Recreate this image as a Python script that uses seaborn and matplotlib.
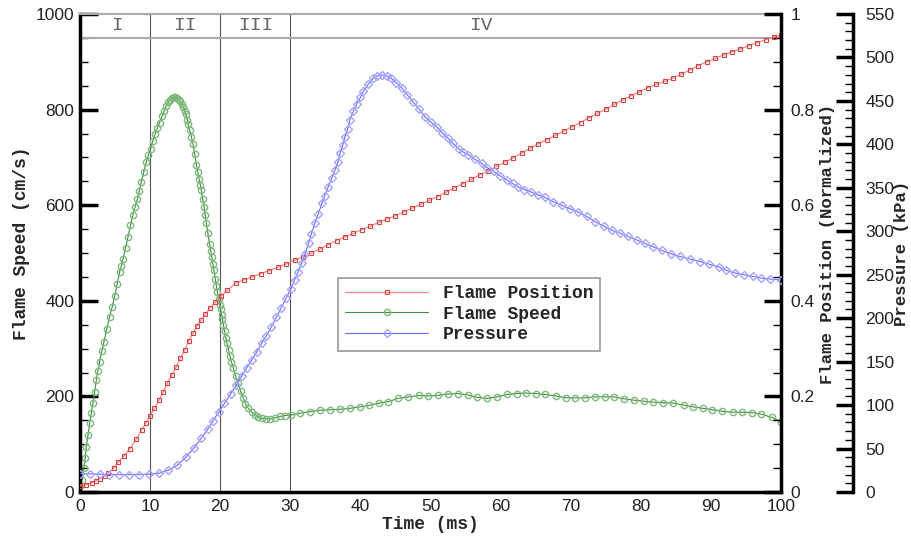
import seaborn as sns
import matplotlib.pyplot as plt
import pandas as pd
import numpy as np
from matplotlib.ticker import MultipleLocator, FuncFormatter
from matplotlib.font_manager import FontProperties

# flame speed (cm/s)
speed_t = [0, 0.3, 0.57, 0.75, 0.9, 1.15, 1.38, 1.6, 1.85, 2.1, 2.33, 2.55, 2.81, 3.1, 3.42, 3.8,
           4.23, 4.6, 4.94, 5.3, 5.66, 5.9, 6.13, 6.5, 6.85, 7.2, 7.56, 7.87, 8.18, 8.45, 8.75,
           9.1, 9.46, 9.77, 10.08, 10.4, 10.75, 11.05, 11.36, 11.7, 12.0, 12.3, 12.55, 12.85,
           13.1, 13.35, 13.6, 13.85, 14.1, 14.3, 14.55, 14.75, 14.93, 15.1, 15.3, 15.45, 15.64,
           15.9, 16.12, 16.35, 16.6, 16.8, 17.0, 17.15, 17.3, 17.5, 17.69, 17.85, 18.02, 18.25,
           18.5, 18.65, 18.8, 18.95, 19.1, 19.3, 19.45, 19.6, 19.8, 19.95, 20.07, 20.2, 20.3,
           20.45, 20.64, 20.8, 20.97, 21.2, 21.4, 21.6, 21.87, 22.2, 22.5, 22.9, 23.3, 23.6,
           24.0, 24.5, 24.96, 25.4, 25.9, 26.5, 27.1, 27.8, 28.5, 29.3, 30.1, 31.4, 32.8, 34.2,
           35.7, 37.1, 38.5, 39.9, 41.2, 42.65, 44.0, 45.4, 46.8, 48.3, 49.7, 51.0, 52.5, 53.9,
           55.3, 56.7, 58.1, 59.5, 60.9, 62.3, 63.6, 65.0, 66.3, 67.9, 69.3, 70.6, 72.0, 73.5,
           74.9, 76.2, 77.6, 79.1, 80.5, 81.8, 83.2, 84.6, 86.1, 87.5, 88.9, 90.2, 91.6, 93.1,
           94.4, 95.8, 97.2, 98.7, 100]
speed = [12, 25, 50, 72, 95, 120, 144, 165, 186, 210, 234, 253, 273, 294, 314, 340,
         367, 388, 409, 435, 461, 473, 487, 510, 534, 558, 580, 597, 612, 630, 649,
         670, 691, 705, 718, 735, 750, 762, 773, 786, 797, 808, 815, 821,
         824, 826, 827, 825, 821, 817, 811, 805, 798, 790, 779, 769, 757,
         743, 728, 707, 685, 669, 654, 643, 632, 614, 597, 580, 563, 541,
         519, 505, 492, 478, 464, 445, 430, 418, 403, 391, 382, 371, 362,
         350, 336, 323, 311, 297, 285, 272, 259, 242, 227, 211, 196, 185,
         175, 167, 161, 157, 154, 153, 153, 155, 158, 160, 161, 165, 168, 171,
         172, 173, 175, 178, 181, 186, 189, 196, 199, 202, 201, 202, 205, 206,
         203, 198, 196, 199, 204, 206, 207, 206, 204, 201, 197, 197, 197, 199,
         199, 199, 195, 192, 190, 188, 187, 186, 182, 178, 175, 172, 169, 167,
         167, 166, 163, 156, 147]

# flame position (normalized)
pos_t = [0, 0.8, 1.66, 2.3, 2.85, 3.5, 4.04, 4.8, 5.47, 6.3, 7.13, 8.0, 8.8, 9.4, 10.0, 10.6,
         11.27, 11.9, 12.46, 13.1, 13.74, 14.3, 14.93, 15.5, 16.12, 16.7, 17.3, 17.9, 18.5,
         19.3, 20.07, 21.0, 22.2, 23.4, 24.6, 25.8, 27.0, 28.2, 29.4, 30.6, 31.8, 33.0, 34.2,
         35.4, 36.6, 37.8, 39.0, 40.2, 41.4, 42.6, 43.8, 45.0, 46.2, 47.4, 48.6, 49.8, 51.0,
         52.2, 53.4, 54.6, 55.8, 57.0, 58.2, 59.4, 60.6, 61.8, 63.0, 64.2, 65.4, 66.6, 67.8,
         69.0, 70.2, 71.4, 72.6, 73.8, 75.0, 76.2, 77.4, 78.6, 79.8, 81.0, 82.2, 83.4, 84.6,
         85.8, 87.0, 88.2, 89.4, 90.6, 91.8, 93.0, 94.2, 95.4, 96.6, 97.8, 99.0, 100.0]
pos = [0.012, 0.015, 0.019, 0.023, 0.028, 0.034, 0.040, 0.050, 0.063, 0.076, 0.091, 0.110,
       0.130, 0.145, 0.160, 0.175, 0.192, 0.210, 0.227, 0.245, 0.262, 0.280, 0.297, 0.315,
       0.332, 0.347, 0.360, 0.372, 0.384, 0.397, 0.409, 0.422, 0.437, 0.444, 0.450, 0.457,
       0.463, 0.470, 0.477, 0.485, 0.492, 0.500, 0.508, 0.517, 0.526, 0.534, 0.541, 0.549,
       0.556, 0.564, 0.571, 0.578, 0.586, 0.594, 0.602, 0.610, 0.618, 0.627, 0.636, 0.645,
       0.654, 0.663, 0.672, 0.681, 0.690, 0.699, 0.709, 0.719, 0.729, 0.737, 0.746, 0.755,
       0.764, 0.773, 0.783, 0.792, 0.801, 0.811, 0.820, 0.829, 0.837, 0.846, 0.853, 0.859,
       0.866, 0.874, 0.883, 0.892, 0.900, 0.907, 0.914, 0.921, 0.927, 0.934, 0.940, 0.946,
       0.952, 0.956]

# pressure (kPa)
pres_t = [0, 1.4, 2.8, 4.2, 5.6, 7.0, 8.4, 9.9, 11.3, 12.6, 13.9, 15.1, 16.3, 17.3, 18.2, 19.0,
          19.8, 20.6, 21.5, 22.3, 23.1, 23.8, 24.5, 25.2, 25.9, 26.6, 27.3, 28.0, 28.7, 29.4,
          30.1, 30.6, 31.1, 31.6, 32.1, 32.6, 33.0, 33.5, 34.0, 34.5, 34.9, 35.4, 35.9, 36.4,
          36.8, 37.1, 37.5, 37.8, 38.2, 38.5, 39.0, 39.5, 40.0, 40.4, 41.1, 41.8, 42.4, 43.1,
          43.8, 44.4, 45.1, 45.9, 46.7, 47.5, 48.3, 49.2, 50.0, 50.9, 51.7, 52.5, 53.2, 54.0,
          54.7, 55.4, 56.3, 57.3, 58.1, 59.0, 59.9, 60.9, 61.7, 62.5, 63.4, 64.4, 65.3, 66.3,
          67.5, 68.7, 69.9, 71.1, 72.3, 73.5, 74.7, 75.9, 77.0, 78.2, 79.4, 80.6, 81.8, 83.0,
          84.3, 85.6, 87.0, 88.5, 89.8, 91.1, 92.2, 93.4, 94.7, 96.0, 97.2, 98.5, 100]
pres = [21, 21, 20.5, 20, 20, 20, 20, 20.5, 21.5, 25, 31, 40, 51, 62, 72, 82,
        92, 102, 113, 123, 134, 143, 152, 161, 171, 180, 190, 201, 212, 223,
        234, 244, 253, 263, 274, 286, 297, 309, 320, 332, 341, 351, 361, 371,
        380, 390, 399, 409, 418, 428, 438, 447, 454, 461, 469, 476, 479, 480,
        479, 476, 471, 465, 457, 449, 441, 432, 426, 420, 413, 407, 401, 395,
        391, 388, 383, 378, 373, 369, 364, 359, 355, 351, 348, 345, 342, 339,
        334, 330, 326, 322, 317, 311, 306, 301, 298, 294, 290, 286, 282, 278,
        274, 271, 268, 265, 262, 259, 255, 252, 250, 248, 246, 245, 244]

regions = ["I", "II", "III", "IV"]
region_x = [5.3, 15, 25, 57.2]
region_edges = [10, 20, 30]

sns.set_style("white")
plt.rcParams['font.family'] = ['Liberation Sans', 'DejaVu Sans']
mono = 'Liberation Mono'

fig = plt.figure(figsize=(9.11, 5.38), dpi=100)
ax = fig.add_axes([80 / 911, 46 / 538, 701 / 911, 478 / 538])
ax2 = ax.twinx()
ax3 = ax.twinx()
ax3.spines['right'].set_position(('axes', (853 - 80) / 701))

sns.lineplot(x=speed_t, y=speed, ax=ax, sort=False, color='#3d8b3d', lw=0.8,
             marker='o', markersize=4.5, markerfacecolor='none', markeredgecolor='#7cb87c',
             markeredgewidth=1.0)
sns.lineplot(x=pos_t, y=pos, ax=ax2, sort=False, color='#f08888', lw=0.9,
             marker='s', markersize=3, markerfacecolor='none', markeredgecolor='#d84444',
             markeredgewidth=0.8)
sns.lineplot(x=pres_t, y=pres, ax=ax3, sort=False, color='#6a6aff', lw=0.8,
             marker='D', markersize=3.8, markerfacecolor='none', markeredgecolor='#a4a4ff',
             markeredgewidth=1.0)

ax.set_xlim(0, 100)
ax.set_ylim(0, 1000)
ax2.set_ylim(0, 1)
ax3.set_ylim(0, 550)

# region separators and labels
for xe in region_edges:
    ax.axvline(xe, color='#555555', lw=0.8, zorder=1)
ax.axhline(950, color='#aaaaaa', lw=1.5, zorder=1)
for lab, xr in zip(regions, region_x):
    ax.text(xr, 975, lab, ha='center', va='center', family=mono, fontsize=14, color='#666666')

# spines
for a in (ax, ax2, ax3):
    for s in a.spines.values():
        s.set_visible(False)
        s.set_color('black')
ax.spines['left'].set_visible(True)
ax.spines['bottom'].set_visible(True)
ax.spines['top'].set_visible(True)
ax.spines['left'].set_linewidth(2.5)
ax.spines['bottom'].set_linewidth(2.5)
ax.spines['top'].set_color('#aaaaaa')
ax.spines['top'].set_linewidth(1.5)
ax2.spines['right'].set_visible(True)
ax2.spines['right'].set_linewidth(2.5)
ax3.spines['right'].set_visible(True)
ax3.spines['right'].set_linewidth(2.5)

ax.xaxis.set_major_locator(MultipleLocator(10))
ax.xaxis.set_minor_locator(MultipleLocator(2))
ax.yaxis.set_major_locator(MultipleLocator(200))
ax.yaxis.set_minor_locator(MultipleLocator(50))
ax2.yaxis.set_major_locator(MultipleLocator(0.2))
ax2.yaxis.set_minor_locator(MultipleLocator(0.05))
ax2.yaxis.set_major_formatter(FuncFormatter(lambda v, p: '%g' % round(v, 2)))
ax3.yaxis.set_major_locator(MultipleLocator(50))
ax3.yaxis.set_minor_locator(MultipleLocator(10))

ax.tick_params(axis='x', which='major', direction='in', length=13, width=1.2, color='black',
               labelsize=12.5, pad=5, top=False, labelcolor='#222222')
ax.tick_params(axis='x', which='minor', direction='in', length=6, width=1, top=False,
               color='black')
ax.tick_params(axis='y', which='major', direction='in', length=13, width=2.5, color='black',
               labelsize=12.5, pad=4, right=False, labelcolor='#222222')
ax.tick_params(axis='y', which='minor', direction='in', length=6, width=1, right=False,
               color='black')
for a, pd_ in ((ax2, 7), (ax3, 9)):
    a.tick_params(axis='y', which='major', direction='in', length=12, width=2.5,
                  color='black', labelsize=12.5, pad=pd_, labelcolor='#222222')
    a.tick_params(axis='y', which='minor', direction='in', length=6, width=1, color='black')

lab_font = dict(family=mono, weight='bold', size=13)
side_font = dict(family=mono, weight='bold', size=12.5)
ax.set_xlabel('Time (ms)', fontdict=lab_font)
ax.set_ylabel('Flame Speed (cm/s)', fontdict=lab_font)
ax2.set_ylabel('Flame Position (Normalized)', fontdict=side_font)
ax3.set_ylabel('Pressure (kPa)', fontdict=side_font)
ax.xaxis.set_label_coords(0.5, -0.05)
ax.yaxis.set_label_coords((30 - 80) / 701, 0.52)
ax2.yaxis.set_label_coords((820 - 80) / 701, 0.52)
ax3.yaxis.set_label_coords((894 - 80) / 701, 0.5)

handles = [ax2.lines[0], ax.lines[0], ax3.lines[0]]
leg = ax3.legend(handles, ['Flame Position', 'Flame Speed', 'Pressure'],
                 loc='upper left', bbox_to_anchor=(0.368, 0.448),
                 prop=FontProperties(family=mono, weight='bold', size=13),
                 frameon=True, fancybox=False, edgecolor='#999999', framealpha=1,
                 handlelength=4.6, numpoints=1, borderpad=0.4, labelspacing=0.2,
                 handletextpad=0.8, borderaxespad=0)
leg.get_frame().set_linewidth(1.2)

fig.savefig('out.png', dpi=100)
